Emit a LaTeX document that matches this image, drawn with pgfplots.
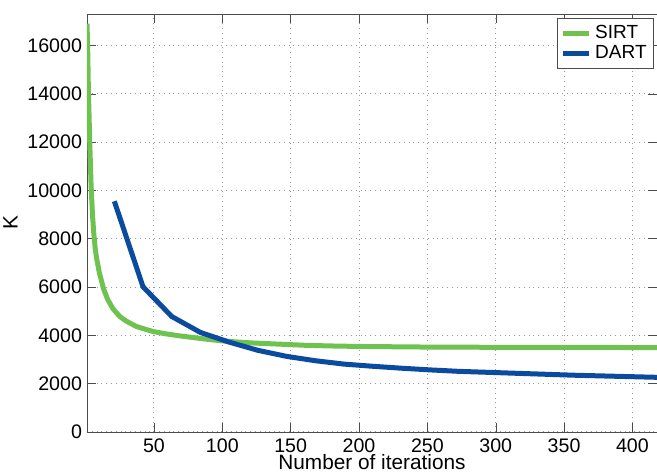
\documentclass[border=0pt]{standalone}
\usepackage{fontspec}
\setmainfont{Liberation Sans}
\usepackage{pgfplots}
\pgfplotsset{compat=1.18}

\definecolor{sirtgreen}{RGB}{110,195,80}
\definecolor{dartblue}{RGB}{10,75,160}

\begin{document}
\begin{tikzpicture}
\begin{axis}[
  scale only axis,
  width=285pt, height=209pt,
  xmin=1, xmax=418,
  ymin=0, ymax=17300,
  xtick={50,100,...,400},
  ytick={0,2000,...,16000},
  scaled y ticks=false,
  /pgf/number format/1000 sep={},
  /pgf/number format/assume math mode=true,
  tick label style={font=\fontsize{9.8}{11}\selectfont},
  yticklabel style={xshift=1pt},
  xticklabel style={inner sep=0.5pt, yshift=-2.6pt},
  label style={font=\fontsize{10.4}{12}\selectfont},
  xlabel={Number of iterations},
  ylabel={K},
  xlabel style={inner sep=0.5pt, yshift=0pt},
  ylabel style={yshift=-2pt},
  grid=major,
  major grid style={dotted, gray!80, line width=0.5pt},
  axis line style={gray!60!black},
  tick style={gray!60!black},
  legend style={at={(1,1)}, anchor=north east, xshift=-1.5pt, yshift=-2pt,
    font=\fontsize{9.5}{11}\selectfont, draw=black!70, inner sep=1.5pt,
    row sep=-2pt},
  legend cell align=left,
  legend image code/.code={\draw[#1, line width=2.5pt] (0cm,0cm) -- (0.45cm,0cm);},
]
\addplot[sirtgreen, line width=2.5pt] coordinates {
  (1,16900)(1.5,15900)(2,14200)(3,12000)(4,10200)(5,9000)(6,8200)(7,7600)
  (8,7200)(10,6600)(13,5950)(16,5500)(20,5100)(25,4780)(30,4580)(37,4370)
  (45,4230)(50,4150)(60,4050)(70,3970)(80,3900)(90,3830)(100,3770)(120,3690)
  (140,3640)(160,3590)(180,3560)(200,3540)(250,3515)(300,3505)(350,3500)
  (420,3495)
};
\addlegendentry{SIRT}
\addplot[dartblue, line width=2.5pt] coordinates {
  (21,9550)(42,6010)(63,4780)(84,4120)(105,3720)(126,3380)(147,3130)
  (168,2950)(189,2810)(210,2720)(231,2640)(252,2570)(273,2510)(294,2470)
  (315,2430)(336,2390)(357,2350)(378,2320)(399,2290)(420,2260)
};
\addlegendentry{DART}
\end{axis}
\pgfresetboundingbox
\useasboundingbox ([xshift=-43.5pt,yshift=-21pt]current axis.south west)
  rectangle ([yshift=7pt]current axis.north east);
\end{tikzpicture}
\end{document}
